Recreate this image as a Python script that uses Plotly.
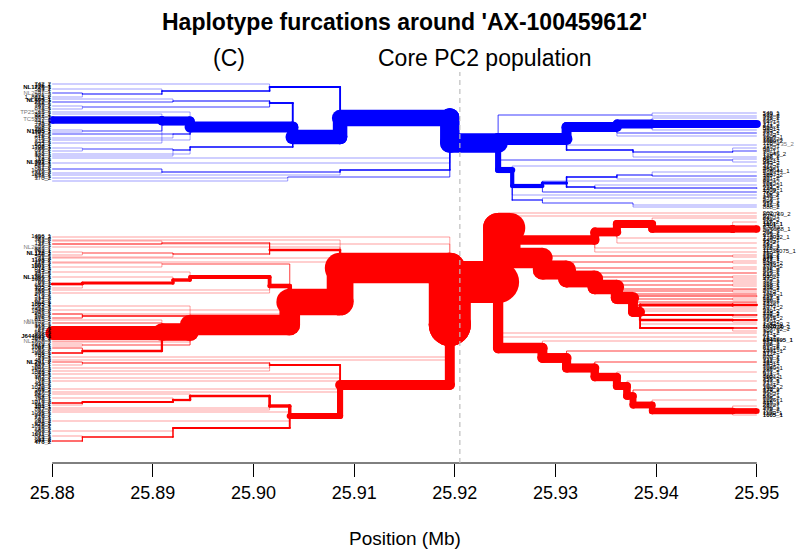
import plotly.graph_objects as go
from collections import defaultdict

# ---------------- data ----------------
TICK_VALUES = [25.88, 25.89, 25.90, 25.91, 25.92, 25.93, 25.94, 25.95]
TICK_LABELS = ["25.88", "25.89", "25.90", "25.91", "25.92", "25.93", "25.94", "25.95"]

CORE_MARKER = 25.9205   # focal marker (dashed line)
CORE_JOIN = 25.9195     # where left and right trees are joined

# node tables: (id, parent, split position in Mb, track, number of haplotypes)
LEFT_BLUE = [
    ("LB", None, 25.9195, 118, 51),
    ("LBm", "LB", 25.9086, 118, 43), ("LBd", "LB", 25.88, 158, 1), ("LBa", "LB", 25.88, 163, 1),
    ("LBb", "LB", 25.9086, 170, 4), ("LBc", "LB", 25.9034, 177, 2),
    ("LBb1", "LBb", 25.8909, 172, 3), ("LBb2", "LBb", 25.88, 175, 1),
    ("LBb1a", "LBb1", 25.88, 169, 2), ("LBb1b", "LBb1", 25.88, 173, 1),
    ("LBc1", "LBc", 25.88, 178, 1), ("LBc2", "LBc", 25.88, 181, 1),
    ("LBt", "LBm", 25.9016, 87, 5), ("LBm2", "LBm", 25.9039, 137, 38),
    ("LBt1", "LBt", 25.88, 84, 1), ("LBt2", "LBt", 25.8909, 91, 4),
    ("LBt3", "LBt2", 25.8830, 94, 3), ("LBt4", "LBt2", 25.88, 89, 1),
    ("LBt5", "LBt3", 25.88, 93, 2), ("LBt6", "LBt3", 25.88, 97, 1),
    ("LBu", "LBm2", 25.9016, 103, 5), ("LBm3", "LBm2", 25.8937, 127, 29), ("LBs", "LBm2", 25.8937, 147, 4),
    ("LBu1", "LBu", 25.8920, 101, 3), ("LBu2", "LBu", 25.8830, 107, 2),
    ("LBu3", "LBu1", 25.88, 99, 1), ("LBu4", "LBu1", 25.88, 102, 2),
    ("LBu5", "LBu2", 25.88, 106, 1), ("LBu6", "LBu2", 25.88, 109, 1),
    ("LBs1", "LBs", 25.8920, 150, 3), ("LBs2", "LBs", 25.88, 154, 1),
    ("LBs3", "LBs1", 25.8830, 149, 2), ("LBs4", "LBs1", 25.88, 156, 1),
    ("LBs5", "LBs3", 25.88, 148, 1), ("LBs6", "LBs3", 25.88, 151, 1),
    ("LBm4", "LBm3", 25.8909, 121, 24), ("LBr", "LBm3", 25.8920, 134, 3),
    ("LBl1", "LBm3", 25.88, 112, 1), ("LBl2", "LBm3", 25.88, 140, 1),
    ("LBr1", "LBr", 25.88, 134, 2), ("LBr2", "LBr", 25.88, 138, 1),
    ("LBm5", "LBm4", 25.88, 120, 20), ("LBv", "LBm4", 25.8830, 131, 2),
    ("LBl3", "LBm4", 25.88, 114, 1), ("LBl4", "LBm4", 25.88, 143, 1),
    ("LBv1", "LBv", 25.88, 130, 1), ("LBv2", "LBv", 25.88, 132, 1),
]

RIGHT_BLUE = [
    ("RB", None, 25.9243, 143, 51),
    ("RBm", "RB", 25.9311, 139, 31), ("RBd", "RB", 25.9257, 170, 16),
    ("RBt", "RB", 25.9396, 115, 2), ("RBx", "RB", 25.9476, 160, 2),
    ("RBm2", "RBm", 25.9361, 127, 26), ("RBh", "RBm", 25.9377, 150, 4), ("RBl1", "RBm", 25.95, 145, 1),
    ("RBm3", "RBm2", 25.9396, 124, 23), ("RBl2", "RBm2", 25.95, 133, 2), ("RBl3", "RBm2", 25.95, 136, 1),
    ("RBm4", "RBm3", 25.95, 124, 21), ("RBl4", "RBm3", 25.95, 118, 1), ("RBl5", "RBm3", 25.95, 130, 1),
    ("RBh1", "RBh", 25.9476, 152, 3), ("RBl6", "RBh", 25.95, 157, 1),
    ("RBl7", "RBh1", 25.95, 151, 2), ("RBl8", "RBh1", 25.95, 148, 1),
    ("RBd2", "RBd", 25.9287, 186, 11), ("RBe", "RBd", 25.9287, 200, 3),
    ("RBl9", "RBd", 25.95, 166, 1), ("RBl10", "RBd", 25.95, 195, 1),
    ("RBd3", "RBd2", 25.9311, 183, 8), ("RBl11", "RBd2", 25.95, 192, 2), ("RBl12", "RBd2", 25.95, 181, 1),
    ("RBf", "RBd3", 25.9361, 177, 4), ("RBg", "RBd3", 25.9339, 187, 4),
    ("RBf1", "RBf", 25.9396, 175, 3), ("RBl13", "RBf", 25.95, 179, 1),
    ("RBl14", "RBf1", 25.95, 176, 2), ("RBl15", "RBf1", 25.95, 172, 1),
    ("RBl16", "RBg", 25.95, 188, 3), ("RBl17", "RBg", 25.95, 185, 1),
    ("RBe1", "RBe", 25.9377, 203, 2), ("RBl18", "RBe", 25.95, 198, 1),
    ("RBl19", "RBe1", 25.95, 205, 1), ("RBl20", "RBe1", 25.95, 207, 1),
    ("RBl21", "RBt", 25.95, 113, 1), ("RBl22", "RBt", 25.95, 116, 1),
    ("RBl23", "RBx", 25.95, 159, 1), ("RBl24", "RBx", 25.95, 162, 1),
]

LEFT_RED = [
    ("LR", None, 25.9195, 325, 110),
    ("U", "LR", 25.9086, 268, 80), ("L", "LR", 25.9086, 385, 26),
    ("LRl1", "LR", 25.88, 237, 1), ("LRl2", "LR", 25.88, 244, 1),
    ("LRl3", "LR", 25.88, 357, 1), ("LRl4", "LR", 25.88, 360, 1),
    ("U1", "U", 25.9036, 302, 70), ("A", "U", 25.9016, 250, 6),
    ("Ul1", "U", 25.88, 240, 1), ("Ul2", "U", 25.88, 247, 1), ("Ul3", "U", 25.88, 258, 1), ("Ul4", "U", 25.88, 262, 1),
    ("A1", "A", 25.8909, 243, 3), ("A2", "A", 25.8920, 254, 3),
    ("A1a", "A1", 25.88, 241, 1), ("A1b", "A1", 25.88, 244, 2),
    ("A2a", "A2", 25.8830, 253, 2), ("A2b", "A2", 25.88, 257, 1),
    ("A2c", "A2a", 25.88, 252, 1), ("A2d", "A2a", 25.88, 255, 1),
    ("U2", "U1", 25.8937, 325, 54), ("B", "U1", 25.9016, 286, 12), ("C", "U1", 25.8909, 264, 2),
    ("U1l1", "U1", 25.88, 310, 1), ("U1l2", "U1", 25.88, 314, 1),
    ("C1", "C", 25.88, 263, 1), ("C2", "C", 25.88, 267, 1),
    ("B1", "B", 25.8937, 277, 10), ("Bl1", "B", 25.88, 290, 1), ("Bl2", "B", 25.88, 293, 1),
    ("B2", "B1", 25.8920, 280, 9), ("B1l", "B1", 25.88, 272, 1),
    ("B3", "B2", 25.8830, 283, 8), ("B2l", "B2", 25.88, 277, 1),
    ("B4", "B3", 25.88, 284, 7), ("B3l", "B3", 25.88, 288, 1),
    ("U3", "U2", 25.8909, 332, 46), ("D", "U2", 25.8830, 316, 4), ("E", "U2", 25.8830, 345, 2),
    ("U2l1", "U2", 25.88, 306, 1), ("U2l2", "U2", 25.88, 342, 1),
    ("D1", "D", 25.88, 314, 2), ("D2", "D", 25.88, 318, 2),
    ("E1", "E", 25.88, 344, 1), ("E2", "E", 25.88, 346, 1),
    ("U4", "U3", 25.88, 333, 36), ("F", "U3", 25.88, 323, 2), ("G", "U3", 25.8830, 351, 6),
    ("U3l1", "U3", 25.88, 320, 1), ("U3l2", "U3", 25.88, 341, 1),
    ("G1", "G", 25.88, 353, 4), ("G2", "G", 25.88, 348, 2),
    ("L1", "L", 25.9036, 416, 16), ("H", "L", 25.9016, 365, 5),
    ("Ll1", "L", 25.88, 374, 1), ("Ll2", "L", 25.88, 378, 1), ("Ll3", "L", 25.88, 381, 1),
    ("Ll4", "L", 25.88, 389, 1), ("Ll5", "L", 25.88, 392, 1),
    ("H1", "H", 25.8830, 363, 3), ("Hl1", "H", 25.88, 368, 1), ("Hl2", "H", 25.88, 371, 1),
    ("H1a", "H1", 25.88, 362, 2), ("H1b", "H1", 25.88, 365, 1),
    ("L2", "L1", 25.9016, 406, 9), ("M", "L1", 25.8920, 428, 5),
    ("L1l1", "L1", 25.88, 412, 1), ("L1l2", "L1", 25.88, 421, 1),
    ("L3", "L2", 25.8937, 396, 7), ("L2l1", "L2", 25.88, 408, 1), ("L2l2", "L2", 25.88, 410, 1),
    ("L4", "L3", 25.8920, 400, 6), ("L3l", "L3", 25.88, 394, 1),
    ("L5", "L4", 25.8830, 402, 5), ("L4l", "L4", 25.88, 398, 1),
    ("L6", "L5", 25.88, 403, 4), ("L5l", "L5", 25.88, 405, 1),
    ("M1", "M", 25.8830, 437, 4), ("Ml", "M", 25.88, 431, 1),
    ("M2", "M1", 25.88, 441, 3), ("M3", "M1", 25.88, 436, 1),
]

RIGHT_RED = [
    ("RR", None, 25.9243, 282, 110),
    ("RX", "RR", 25.9255, 228, 79), ("RL1", "RR", 25.9287, 348, 27),
    ("RRl1", "RR", 25.95, 213, 1), ("RRl2", "RR", 25.95, 216, 1),
    ("RRl3", "RR", 25.95, 333, 1), ("RRl4", "RR", 25.95, 337, 1),
    ("RU", "RX", 25.9339, 240, 25), ("RD1", "RX", 25.9287, 258, 54),
    ("RU2", "RU", 25.9361, 232, 23), ("RV", "RU", 25.95, 248, 1), ("RUl1", "RU", 25.95, 252, 1),
    ("RU3", "RU2", 25.9396, 224, 21), ("RU2l1", "RU2", 25.95, 238, 1), ("RU2l2", "RU2", 25.95, 243, 1),
    ("RU4", "RU3", 25.9476, 229, 20), ("RU3l1", "RU3", 25.95, 218, 1),
    ("RU5", "RU4", 25.95, 229, 19), ("RU4l1", "RU4", 25.95, 222, 1),
    # staircase towards the lower right
    ("RD2", "RD1", 25.9311, 270, 50),
    ("Q11", "RD1", 25.9476, 256, 2), ("Q12", "RD1", 25.9476, 262, 2),
    ("Q11a", "Q11", 25.95, 255, 1), ("Q11b", "Q11", 25.95, 257, 1),
    ("Q12a", "Q12", 25.95, 261, 1), ("Q12b", "Q12", 25.95, 263, 1),
    ("RD3", "RD2", 25.9339, 279, 44),
    ("Q21", "RD2", 25.9476, 268, 2), ("Q22", "RD2", 25.95, 273, 2), ("Q23", "RD2", 25.9476, 277, 2),
    ("Q21a", "Q21", 25.95, 267, 1), ("Q21b", "Q21", 25.95, 269, 1),
    ("Q23a", "Q23", 25.95, 276, 1), ("Q23b", "Q23", 25.95, 278, 1),
    ("RD4", "RD3", 25.9361, 287, 38),
    ("Q31", "RD3", 25.9476, 281, 2), ("Q32", "RD3", 25.9476, 285, 2), ("Q33", "RD3", 25.95, 289, 2),
    ("Q31a", "Q31", 25.95, 280, 1), ("Q31b", "Q31", 25.95, 282, 1),
    ("Q32a", "Q32", 25.95, 284, 1), ("Q32b", "Q32", 25.95, 286, 1),
    ("RD5", "RD4", 25.9377, 298, 32),
    ("Q41", "RD4", 25.9476, 291, 2), ("Q42", "RD4", 25.95, 294, 2), ("Q43", "RD4", 25.9476, 299, 2),
    ("Q41a", "Q41", 25.95, 290, 1), ("Q41b", "Q41", 25.95, 292, 1),
    ("Q43a", "Q43", 25.95, 298, 1), ("Q43b", "Q43", 25.95, 300, 1),
    ("RD6", "RD5", 25.9384, 312, 26),
    ("RD5l1", "RD5", 25.95, 296, 3), ("RD5l2", "RD5", 25.95, 302, 2), ("RD5l3", "RD5", 25.95, 309, 1),
    ("P1", "RD6", 25.9476, 305, 8), ("P2", "RD6", 25.9476, 315, 5),
    ("P3", "RD6", 25.9476, 320, 6), ("P4", "RD6", 25.9476, 328, 5),
    ("RD6l1", "RD6", 25.95, 311, 1), ("RD6l2", "RD6", 25.95, 324, 1),
    ("P1a", "P1", 25.95, 305, 6), ("P1b", "P1", 25.95, 307, 1), ("P1c", "P1", 25.95, 303, 1),
    ("P2a", "P2", 25.95, 315, 4), ("P2b", "P2", 25.95, 317, 1),
    ("P3a", "P3", 25.95, 320, 5), ("P3b", "P3", 25.95, 322, 1),
    ("P4a", "P4", 25.95, 328, 4), ("P4b", "P4", 25.95, 331, 1),
    # lower chain
    ("RL2", "RL1", 25.9311, 358, 26), ("RL1l", "RL1", 25.95, 341, 1),
    ("RL3", "RL2", 25.9339, 368, 24), ("RL2l", "RL2", 25.95, 351, 2),
    ("RL4", "RL3", 25.9361, 377, 22), ("RL3l", "RL3", 25.95, 362, 2),
    ("RL5", "RL4", 25.9371, 386, 21), ("RL4l", "RL4", 25.95, 372, 1),
    ("RL6", "RL5", 25.9377, 396, 20), ("RL5l", "RL5", 25.95, 381, 1),
    ("RL7", "RL6", 25.9396, 405, 18), ("RL6l", "RL6", 25.95, 390, 2),
    ("RL8", "RL7", 25.9476, 411, 17), ("RL7l", "RL7", 25.95, 400, 1),
    ("RL9", "RL8", 25.95, 411, 15), ("RL8l1", "RL8", 25.95, 406, 1), ("RL8l2", "RL8", 25.95, 415, 1),
]

LEFT_BLUE_LABELS = """742_2 136_1 NL1726_1 583_2 47_1 NL2692_1 391_2 1_8815_2 104_1 NL655_1 212_2 998_1
63_2 871_1 29_2 TP25735_1 802_2 117_1 664_1 TC5869_2 441_1 35_2 770_1 908_2 286_1 N1995_1 1109_2 52_1
419_2 615_1 9_2 844_1 233_2 508_1 1198_1 66_2 977_1 138_1 324_1 701_2 18_1 493_2 NL301_1 246_1 867_2
57_2 1098_1 312_2 1093_2 576_1 370_2""".split()

LEFT_RED_LABELS = """1496_1 393_2 381_2 52_2 137_1 46_1 NL2692_2 883_1 762_1 NL172_1 140_2 599_1 31_2 1198_2
214_1 666_2 1001_1 872_1 45_2 917_2 357_1 607_2 NL1366_1 1082_2 780_1 93_1 652_2 305_1 122_2 740_1 388_1
273_2 519_1 14_2 871_2 962_1 1005_2 73_1 1061_1 436_2 1088_2 241_1 500_2 106_1 815_2 NL989_1 NL1520_2
126_1 318_2 722_1 27_2 556_1 938_2 J644695_1 1043_2 678_1 NL2808_1 1030_2 412_1 1007_1 95_2 1092_2 209_1
788_2 33_1 31_1 457_2 NL291_2 620_1 887_1 1046_1 592_2 1033_2 69_1 934_1 182_2 703_1 28_1 611_2 745_1
1070_2 89_1 355_2 827_1 240_2 964_1 58_1 479_1 1019_2 662_2 193_1 404_1 857_2 36_2 1095_1 248_2 719_1
603_1 81_2 970_2 525_1 1056_2 16_1 683_2 299_1 1011_2 876_1 54_2 934_2 476_2""".split()

RIGHT_BLUE_LABELS = """549_1 139_2 592_2 733_2 866_1 14_1 271_2 441_2 590_1 96_1 203_2 783_1 62_2 1009_1
380_2 1009_2 728_1 TP25735_2 316_1 48_2 907_1 30_1 1_945_2 188_2 466_1 862_1 95_1 463_2 572_2 46_2 463_1
5_8944_1 592_1 1087_2 367_2 301_2 80_1 882_2 1012_1 655_2 224_1 1099_1 42_2 760_1 118_2 349_1 5_2 693_1
957_2 415_1 888_2""".split()

RIGHT_RED_LABELS = """362_1 N70769_2 528_1 84_2 588_2 117_2 1001_1 24_1 370_2 N70588_1 482_1 206_2 973_1
1_3022_1 770_2 649_1 72_2 393_1 581_1 315_2 115_1 11_39075_1 730_1 852_2 123_1 877_1 848_1 1046_2 941_1
1024_2 912_2 575_2 996_2 612_1 580_2 93_2 472_1 307_1 366_2 368_1 372_1 396_2 802_1 41_2 1063_1 259_2
687_1 130_2 955_1 18_2 544_1 1077_2 63_1 239_2 718_1 401_2 826_1 1015_2 77_1 350_2 1_4710_2 1028_2
N20769_1 1_7762_1 390_1 751_2 61_1 71_2 191_2 6544595_1 557_1 108_2 695_2 61_18_2 233_1 1031_1 87_2
444_1 600_2 919_1 141_2 765_1 38_1 502_2 1049_1 286_2 631_1 9_1 880_2 1104_1 255_2 347_1 713_2 60_1
1002_2 430_1 174_2 968_1 22_2 539_1 806_2 1026_1 315_1 655_1 28_2 986_1 479_2 105_2 1100_1 1005_1""".split()

# ---------------- styling / layout constants ----------------
PX_PER_HAP = 0.382
BLUE = "#0000FF"
RED = "#FF0000"
FONT = "Liberation Sans, Arial, Helvetica, sans-serif"
W, H = 798, 551
ML, MR, MT, MB = 24, 13, 72, 88
TRACK_RANGE = [463, 72]
X_RANGE = [25.8772, 25.9528]
LABEL_SPANS = {"lb": (84, 178), "lr": (236, 442), "rb": (113, 207), "rr": (213, 415)}
BOLD_NAMES = {"NL1726_1", "NL655_1", "N1995_1", "NL301_1", "NL172_1", "1198_2", "1001_1", "1005_2",
              "NL1366_1", "J644695_1", "NL291_2", "1007_1", "1009_2", "463_1", "123_1", "877_1",
              "1028_2", "1005_1", "6544595_1", "72_2", "476_2", "934_2"}
GRAY_PREFIX = ("NL2", "TP", "TC", "NL9", "NL15")


def segments(nodes):
    table = {row[0]: row for row in nodes}
    out = []
    for nid, parent, end, track, n in nodes:
        if parent is None:
            out.append((n, (CORE_JOIN, track), (end, track)))
        else:
            pend, ptrack = table[parent][2], table[parent][3]
            out.append((n, (pend, ptrack), (pend, track)))
            out.append((n, (pend, track), (end, track)))
    return out


groups = defaultdict(list)
for color, left, right in [(BLUE, LEFT_BLUE, RIGHT_BLUE), (RED, LEFT_RED, RIGHT_RED)]:
    for seg in segments(left) + segments(right):
        groups[(seg[0], color)].append(seg[1:])
    # core connector between the two roots
    groups[(left[0][4], color)].append(((CORE_JOIN, left[0][3]), (CORE_JOIN, right[0][3])))

fig = go.Figure()
for (n, color) in sorted(groups):
    xs, ys, mx, my = [], [], [], []
    for (x0, y0), (x1, y1) in groups[(n, color)]:
        xs += [x0, x1, None]
        ys += [y0, y1, None]
        mx += [x0, x1]
        my += [y0, y1]
    w = n * PX_PER_HAP
    fig.add_trace(go.Scatter(x=xs, y=ys, mode="lines", line=dict(color=color, width=w),
                             hoverinfo="skip", showlegend=False))
    if w >= 1.0:
        fig.add_trace(go.Scatter(x=mx, y=my, mode="markers",
                                 marker=dict(size=w, color=color, line=dict(width=0)),
                                 hoverinfo="skip", showlegend=False))


def add_labels(names, span, xpos, pos):
    top, bottom = span
    k = len(names)
    ys = [top + (bottom - top) * i / (k - 1) for i in range(k)]
    styles = {"bold": ([], []), "gray": ([], []), "plain": ([], [])}
    for name, y in zip(names, ys):
        if name in BOLD_NAMES:
            key = "bold"
        elif name.startswith(GRAY_PREFIX):
            key = "gray"
        else:
            key = "plain"
        styles[key][0].append(name)
        styles[key][1].append(y)
    for key, (txt, yy) in styles.items():
        if not txt:
            continue
        fig.add_trace(go.Scatter(
            x=[xpos] * len(txt), y=yy, mode="text",
            text=[f"<b>{t}</b>" if key == "bold" else t for t in txt],
            textposition=pos,
            textfont=dict(family=FONT, size=6, color="#777777" if key == "gray" else "#000000"),
            hoverinfo="skip", showlegend=False, cliponaxis=False))


add_labels(LEFT_BLUE_LABELS, LABEL_SPANS["lb"], 25.8799, "middle left")
add_labels(LEFT_RED_LABELS, LABEL_SPANS["lr"], 25.8799, "middle left")
add_labels(RIGHT_BLUE_LABELS, LABEL_SPANS["rb"], 25.9506, "middle right")
add_labels(RIGHT_RED_LABELS, LABEL_SPANS["rr"], 25.9506, "middle right")


def py(pixel):
    return (MT + (H - MT - MB) - pixel) / (H - MT - MB)


def px(pixel):
    return (pixel - ML) / (W - ML - MR)


fig.update_layout(
    width=W, height=H, autosize=False,
    margin=dict(l=ML, r=MR, t=MT, b=MB, pad=0),
    paper_bgcolor="white", plot_bgcolor="white",
    showlegend=False,
    font=dict(family=FONT, color="black"),
    xaxis=dict(range=X_RANGE, tickvals=TICK_VALUES, ticktext=TICK_LABELS,
               ticks="outside", ticklen=13, tickwidth=1, tickcolor="black",
               tickfont=dict(size=18, family=FONT, color="black"),
               showline=False, showgrid=False, zeroline=False, fixedrange=True, automargin=False),
    yaxis=dict(range=TRACK_RANGE, visible=False, showgrid=False, zeroline=False, fixedrange=True),
    shapes=[
        dict(type="line", xref="x", yref="paper", x0=TICK_VALUES[0], x1=TICK_VALUES[-1], y0=0, y1=0,
             line=dict(color="black", width=1)),
        dict(type="line", xref="x", yref="paper", x0=CORE_MARKER, x1=CORE_MARKER, y0=0, y1=1,
             line=dict(color="#BEBEBE", width=1.2, dash="5px,4px"), layer="above"),
    ],
    annotations=[
        dict(text="<b>Haplotype furcations around 'AX-100459612'</b>", xref="paper", yref="paper",
             x=0.5, y=py(22), xanchor="center", yanchor="middle", showarrow=False,
             font=dict(size=23, family=FONT, color="black")),
        dict(text="(C)", xref="paper", yref="paper", x=px(229), y=py(58),
             xanchor="center", yanchor="middle", showarrow=False, font=dict(size=23, family=FONT)),
        dict(text="Core PC2 population", xref="paper", yref="paper", x=px(485), y=py(58),
             xanchor="center", yanchor="middle", showarrow=False, font=dict(size=23, family=FONT)),
        dict(text="Position (Mb)", xref="paper", yref="paper", x=0.5, y=py(538),
             xanchor="center", yanchor="middle", showarrow=False, font=dict(size=19, family=FONT)),
    ],
)

fig.write_html("out.html", config={"displayModeBar": False},
               post_script="document.body.style.margin='0px';document.body.style.overflow='hidden';")
